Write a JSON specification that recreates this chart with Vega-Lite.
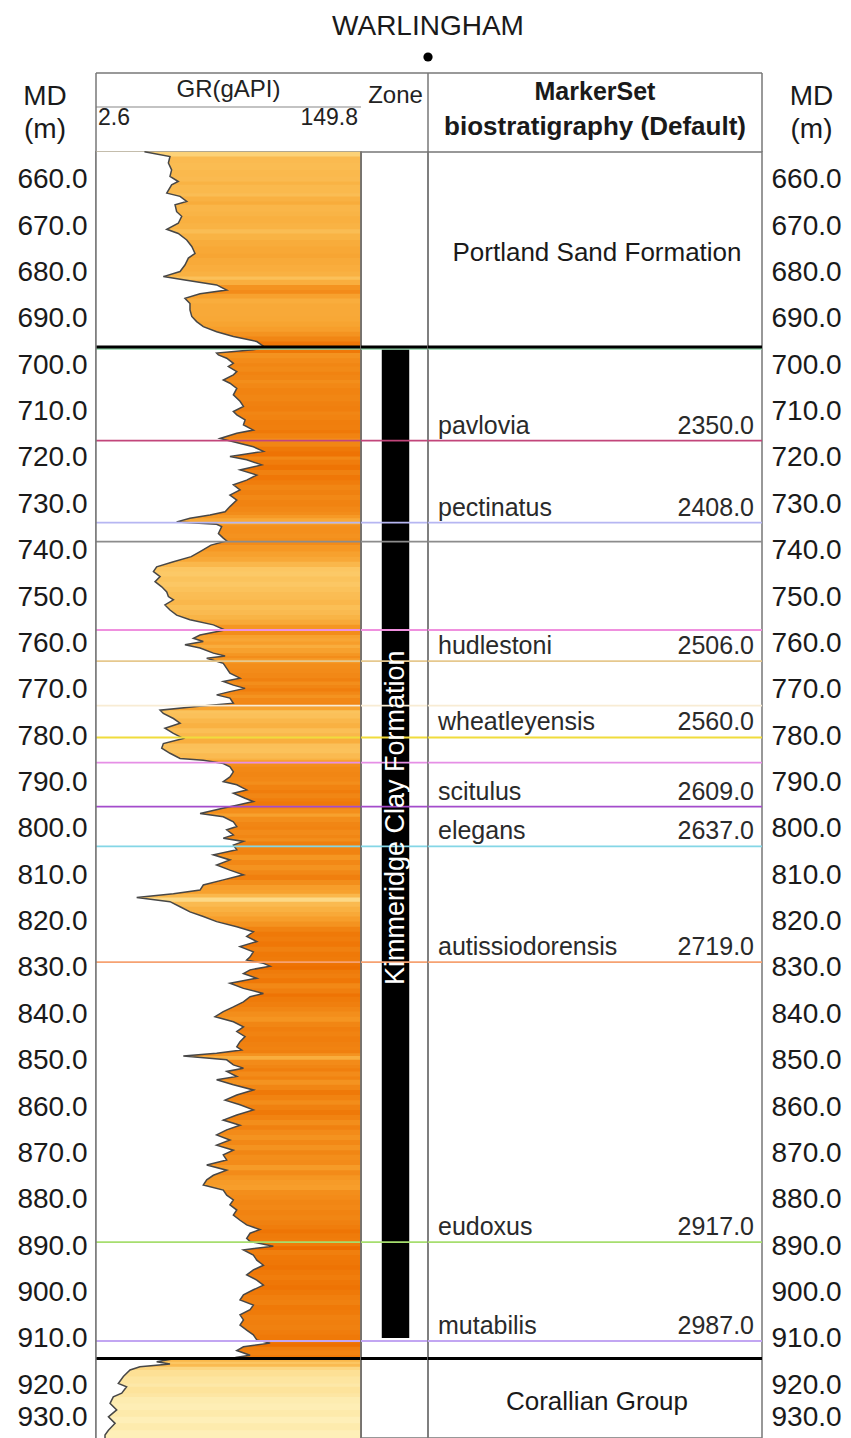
{
  "$schema": "https://vega.github.io/schema/vega-lite/v6.json",
  "padding": 0,
  "background": "white",
  "config": {
    "font": "Liberation Sans",
    "view": {"stroke": null},
    "axis": {"labelFont": "Liberation Sans", "labelFontSize": 28, "labelColor": "#1a1a1a", "ticks": false, "domain": false, "grid": false}
  },
  "datasets": {
    "one": [{"k": 1}],
    "gr": [
      {"d":654.0,"gr":29.5},{"d":655.0,"gr":43.7},{"d":656.4,"gr":42.8},{"d":657.9,"gr":44.6},{"d":659.3,"gr":43.7},
      {"d":660.4,"gr":48.3},{"d":661.1,"gr":44.6},{"d":662.9,"gr":41.9},{"d":663.6,"gr":49.3},{"d":664.7,"gr":53.0},
      {"d":665.4,"gr":46.5},{"d":666.9,"gr":47.4},{"d":667.9,"gr":50.2},{"d":669.4,"gr":48.3},{"d":670.7,"gr":41.9},
      {"d":671.6,"gr":48.3},{"d":673.0,"gr":53.0},{"d":674.4,"gr":55.8},{"d":675.9,"gr":57.6},{"d":676.9,"gr":53.9},
      {"d":678.4,"gr":52.0},{"d":679.8,"gr":49.3},{"d":680.9,"gr":40.0},{"d":681.6,"gr":51.1},{"d":682.7,"gr":69.6},
      {"d":683.8,"gr":75.2},{"d":684.6,"gr":60.4},{"d":685.6,"gr":52.0},{"d":686.7,"gr":54.8},{"d":688.1,"gr":54.8},
      {"d":689.5,"gr":55.8},{"d":690.6,"gr":58.5},{"d":691.7,"gr":62.2},{"d":692.8,"gr":69.6},{"d":693.8,"gr":78.9},
      {"d":694.9,"gr":91.9},{"d":695.9,"gr":95.6},{"d":696.3,"gr":94.0},{"d":696.7,"gr":90.0},{"d":697.4,"gr":69.6},
      {"d":697.8,"gr":70.6},{"d":698.5,"gr":75.2},{"d":699.6,"gr":78.9},{"d":700.3,"gr":76.1},{"d":701.4,"gr":80.8},
      {"d":702.1,"gr":78.9},{"d":703.2,"gr":73.3},{"d":703.9,"gr":77.0},{"d":705.0,"gr":80.8},{"d":706.4,"gr":78.9},
      {"d":707.8,"gr":82.6},{"d":708.9,"gr":84.5},{"d":710.0,"gr":78.9},{"d":710.7,"gr":80.8},{"d":711.8,"gr":85.4},
      {"d":712.9,"gr":84.5},{"d":714.0,"gr":90.0},{"d":714.7,"gr":80.8},{"d":715.8,"gr":71.5},{"d":716.5,"gr":78.9},
      {"d":717.6,"gr":90.0},{"d":718.6,"gr":95.6},{"d":719.7,"gr":77.0},{"d":720.4,"gr":86.3},{"d":721.5,"gr":94.6},
      {"d":722.6,"gr":82.6},{"d":723.7,"gr":91.9},{"d":724.8,"gr":86.3},{"d":725.8,"gr":78.9},{"d":726.9,"gr":82.6},
      {"d":728.0,"gr":77.0},{"d":729.1,"gr":80.8},{"d":730.5,"gr":77.0},{"d":731.6,"gr":74.3},{"d":732.3,"gr":65.9},
      {"d":733.0,"gr":54.8},{"d":733.8,"gr":47.4},{"d":734.3,"gr":69.6},{"d":734.8,"gr":72.4},{"d":736.3,"gr":70.6},
      {"d":737.3,"gr":73.3},{"d":737.9,"gr":75.2},{"d":738.8,"gr":66.5},{"d":740.2,"gr":60.4},{"d":741.3,"gr":55.5},
      {"d":742.4,"gr":45.6},{"d":743.5,"gr":36.3},{"d":744.5,"gr":34.5},{"d":745.6,"gr":38.2},{"d":746.7,"gr":35.4},
      {"d":747.8,"gr":39.1},{"d":748.9,"gr":41.9},{"d":749.9,"gr":42.8},{"d":750.6,"gr":45.6},{"d":751.7,"gr":40.9},
      {"d":752.8,"gr":43.7},{"d":753.9,"gr":47.4},{"d":754.9,"gr":54.8},{"d":756.0,"gr":67.8},{"d":757.1,"gr":74.3},
      {"d":758.2,"gr":60.4},{"d":758.9,"gr":56.7},{"d":759.6,"gr":62.2},{"d":760.3,"gr":52.0},{"d":761.0,"gr":60.4},
      {"d":762.1,"gr":67.8},{"d":762.7,"gr":74.3},{"d":763.2,"gr":64.1},{"d":764.3,"gr":73.3},{"d":765.4,"gr":75.2},
      {"d":766.4,"gr":77.0},{"d":767.5,"gr":82.6},{"d":768.2,"gr":73.3},{"d":769.0,"gr":78.9},{"d":769.7,"gr":85.4},
      {"d":770.4,"gr":77.0},{"d":771.1,"gr":69.6},{"d":771.8,"gr":77.0},{"d":772.9,"gr":78.9},{"d":773.6,"gr":58.5},
      {"d":774.4,"gr":38.2},{"d":775.1,"gr":40.0},{"d":776.2,"gr":45.6},{"d":777.2,"gr":49.3},{"d":778.3,"gr":40.9},
      {"d":779.4,"gr":45.6},{"d":780.5,"gr":51.1},{"d":781.6,"gr":40.0},{"d":782.6,"gr":39.1},{"d":783.7,"gr":43.7},
      {"d":784.8,"gr":49.3},{"d":785.2,"gr":62.2},{"d":785.9,"gr":73.3},{"d":786.6,"gr":77.0},{"d":787.7,"gr":78.9},
      {"d":788.8,"gr":77.0},{"d":789.8,"gr":73.3},{"d":790.5,"gr":80.8},{"d":791.6,"gr":86.3},{"d":792.3,"gr":78.9},
      {"d":793.4,"gr":85.4},{"d":794.1,"gr":90.0},{"d":794.9,"gr":80.8},{"d":795.6,"gr":72.4},{"d":796.7,"gr":60.4},
      {"d":797.4,"gr":73.3},{"d":798.5,"gr":78.9},{"d":799.5,"gr":80.8},{"d":800.2,"gr":75.2},{"d":801.3,"gr":78.9},
      {"d":802.0,"gr":73.3},{"d":802.7,"gr":84.5},{"d":803.5,"gr":78.9},{"d":804.5,"gr":80.8},{"d":805.6,"gr":67.8},
      {"d":806.7,"gr":77.0},{"d":807.8,"gr":69.6},{"d":808.9,"gr":77.0},{"d":809.9,"gr":84.5},{"d":811.0,"gr":73.3},
      {"d":812.1,"gr":62.2},{"d":813.2,"gr":60.4},{"d":814.0,"gr":45.6},{"d":814.8,"gr":25.2},{"d":815.7,"gr":43.7},
      {"d":816.8,"gr":49.3},{"d":817.9,"gr":54.8},{"d":818.9,"gr":62.2},{"d":820.0,"gr":69.6},{"d":821.1,"gr":80.8},
      {"d":822.2,"gr":90.0},{"d":823.2,"gr":86.3},{"d":824.3,"gr":91.9},{"d":825.4,"gr":82.6},{"d":826.5,"gr":90.0},
      {"d":827.6,"gr":88.2},{"d":828.3,"gr":86.3},{"d":829.0,"gr":95.6},{"d":829.6,"gr":99.3},{"d":830.4,"gr":88.2},
      {"d":831.2,"gr":84.5},{"d":832.2,"gr":91.9},{"d":833.3,"gr":77.0},{"d":834.4,"gr":84.5},{"d":835.5,"gr":95.6},
      {"d":836.2,"gr":88.2},{"d":837.3,"gr":84.5},{"d":838.4,"gr":78.9},{"d":839.4,"gr":73.3},{"d":840.5,"gr":68.7},
      {"d":841.6,"gr":78.9},{"d":842.7,"gr":84.5},{"d":843.7,"gr":80.8},{"d":844.8,"gr":85.4},{"d":845.9,"gr":82.6},
      {"d":847.0,"gr":80.8},{"d":847.7,"gr":83.5},{"d":848.4,"gr":69.6},{"d":849.0,"gr":51.1},{"d":849.8,"gr":75.2},
      {"d":850.9,"gr":78.9},{"d":851.6,"gr":84.5},{"d":852.3,"gr":75.2},{"d":853.4,"gr":80.8},{"d":854.1,"gr":69.6},
      {"d":855.2,"gr":78.9},{"d":856.3,"gr":90.0},{"d":857.4,"gr":80.8},{"d":858.5,"gr":74.3},{"d":859.5,"gr":82.6},
      {"d":860.6,"gr":90.0},{"d":861.7,"gr":80.8},{"d":862.8,"gr":73.3},{"d":863.9,"gr":82.6},{"d":864.9,"gr":75.2},
      {"d":866.0,"gr":69.6},{"d":867.1,"gr":77.0},{"d":868.2,"gr":69.6},{"d":869.3,"gr":78.9},{"d":870.3,"gr":73.3},
      {"d":871.4,"gr":75.2},{"d":872.5,"gr":64.1},{"d":873.6,"gr":75.2},{"d":874.7,"gr":67.8},{"d":875.7,"gr":64.1},
      {"d":876.8,"gr":62.2},{"d":877.9,"gr":73.3},{"d":879.0,"gr":75.2},{"d":880.0,"gr":78.9},{"d":881.1,"gr":77.0},
      {"d":882.2,"gr":80.8},{"d":883.3,"gr":78.9},{"d":884.4,"gr":82.6},{"d":885.4,"gr":86.3},{"d":886.4,"gr":93.7},
      {"d":887.2,"gr":88.2},{"d":888.3,"gr":86.3},{"d":889.0,"gr":88.2},{"d":890.0,"gr":101.1},{"d":890.8,"gr":84.5},
      {"d":891.9,"gr":90.0},{"d":893.0,"gr":91.9},{"d":894.1,"gr":95.6},{"d":895.1,"gr":90.0},{"d":896.2,"gr":86.3},
      {"d":897.3,"gr":91.9},{"d":898.4,"gr":95.6},{"d":899.4,"gr":90.0},{"d":900.5,"gr":84.5},{"d":901.6,"gr":82.6},
      {"d":902.7,"gr":90.0},{"d":903.7,"gr":88.2},{"d":904.8,"gr":82.6},{"d":905.9,"gr":84.5},{"d":907.0,"gr":82.6},
      {"d":908.1,"gr":86.3},{"d":909.1,"gr":90.0},{"d":910.2,"gr":91.9},{"d":910.9,"gr":99.3},{"d":911.7,"gr":84.5},
      {"d":912.5,"gr":80.8},{"d":913.5,"gr":88.2},{"d":914.0,"gr":80.0},{"d":914.3,"gr":45.0},{"d":914.9,"gr":36.3},
      {"d":915.4,"gr":43.7},{"d":916.0,"gr":27.0},{"d":916.7,"gr":21.5},{"d":918.1,"gr":17.8},{"d":919.6,"gr":15.0},
      {"d":920.3,"gr":19.6},{"d":921.7,"gr":16.9},{"d":922.5,"gr":12.2},{"d":923.9,"gr":10.4},{"d":925.3,"gr":14.1},
      {"d":926.8,"gr":9.5},{"d":928.2,"gr":13.2},{"d":929.7,"gr":9.5},{"d":930.7,"gr":7.6},{"d":931.4,"gr":7.6}
    ],
    "mk": [
      {"d":696.5,"id":"kcf_top","name":"","md":""},
      {"d":716.28,"id":"pavlovia","name":"pavlovia","md":"2350.0"},
      {"d":733.96,"id":"pectinatus","name":"pectinatus","md":"2408.0"},
      {"d":738.07,"id":"m738","name":"","md":""},
      {"d":757.11,"id":"m757","name":"","md":""},
      {"d":763.83,"id":"hudlestoni","name":"hudlestoni","md":"2506.0"},
      {"d":773.44,"id":"m773","name":"","md":""},
      {"d":780.29,"id":"wheatleyensis","name":"wheatleyensis","md":"2560.0"},
      {"d":785.73,"id":"m786","name":"","md":""},
      {"d":795.22,"id":"scitulus","name":"scitulus","md":"2609.0"},
      {"d":803.76,"id":"elegans","name":"elegans","md":"2637.0"},
      {"d":828.75,"id":"autissiodorensis","name":"autissiodorensis","md":"2719.0"},
      {"d":889.10,"id":"eudoxus","name":"eudoxus","md":"2917.0"},
      {"d":910.44,"id":"mutabilis","name":"mutabilis","md":"2987.0"}
    ],
    "fm": [
      {"name":"Portland Sand Formation","d":654.0,"d2":696.08},
      {"name":"Kimmeridge Clay Formation","d":696.08,"d2":914.22},
      {"name":"Corallian Group","d":914.22,"d2":931.36}
    ],
    "zone": [
      {"name":"Kimmeridge Clay Formation","d":696.58,"d2":909.8}
    ]
  },
  "columns": 5,
  "spacing": 0,
  "bounds": "flush",
  "align": "each",
  "concat": [
    {
      "width": 96,
      "height": 152,
      "data": {"name": "one"},
      "layer": [
        {
          "mark": {"type": "text", "text": "MD", "fontSize": 28, "baseline": "middle", "dx": -3, "color": "#1a1a1a"},
          "encoding": {"y": {"datum": 0.362, "type": "quantitative", "scale": {"domain": [0, 1]}, "axis": null}}
        },
        {
          "mark": {"type": "text", "text": "(m)", "fontSize": 28, "baseline": "middle", "dx": -3, "color": "#1a1a1a"},
          "encoding": {"y": {"datum": 0.145, "type": "quantitative", "scale": {"domain": [0, 1]}, "axis": null}}
        }
      ]
    },
    {
      "width": 265,
      "height": 152,
      "data": {"name": "one"},
      "layer": [
        {
          "mark": {"type": "rule", "color": "#777", "strokeWidth": 1.5},
          "encoding": {"y": {"datum": 0.52, "type": "quantitative", "scale": {"domain": [0, 1]}, "axis": null}}
        },
        {
          "mark": {"type": "rule", "color": "#888", "strokeWidth": 1.2},
          "encoding": {"y": {"datum": 0.296, "type": "quantitative", "scale": {"domain": [0, 1]}, "axis": null}}
        },
        {
          "mark": {"type": "rule", "color": "#777", "strokeWidth": 1.5},
          "encoding": {
            "x": {"datum": 2.6, "type": "quantitative", "scale": {"domain": [2.6, 149.8], "nice": false, "zero": false}, "axis": null},
            "y": {"datum": 0, "type": "quantitative", "scale": {"domain": [0, 1]}, "axis": null},
            "y2": {"datum": 0.52}
          }
        },
        {
          "mark": {"type": "text", "text": "GR(gAPI)", "fontSize": 24, "baseline": "middle", "color": "#222"},
          "encoding": {"y": {"datum": 0.408, "type": "quantitative", "scale": {"domain": [0, 1]}, "axis": null}}
        },
        {
          "mark": {"type": "text", "text": "2.6", "fontSize": 23, "baseline": "middle", "align": "left", "dx": 2, "color": "#222"},
          "encoding": {
            "x": {"datum": 2.6, "type": "quantitative", "scale": {"domain": [2.6, 149.8], "nice": false, "zero": false}, "axis": null},
            "y": {"datum": 0.224, "type": "quantitative", "scale": {"domain": [0, 1]}, "axis": null}
          }
        },
        {
          "mark": {"type": "text", "text": "149.8", "fontSize": 23, "baseline": "middle", "align": "right", "dx": -3, "color": "#222"},
          "encoding": {
            "x": {"datum": 149.8, "type": "quantitative", "scale": {"domain": [2.6, 149.8], "nice": false, "zero": false}, "axis": null},
            "y": {"datum": 0.224, "type": "quantitative", "scale": {"domain": [0, 1]}, "axis": null}
          }
        }
      ]
    },
    {
      "width": 67,
      "height": 152,
      "data": {"name": "one"},
      "layer": [
        {
          "mark": {"type": "rule", "color": "#777", "strokeWidth": 1.5},
          "encoding": {"y": {"datum": 0.52, "type": "quantitative", "scale": {"domain": [0, 1]}, "axis": null}}
        },
        {
          "mark": {"type": "text", "text": "Zone", "fontSize": 24, "baseline": "middle", "dx": 1, "color": "#222"},
          "encoding": {"y": {"datum": 0.368, "type": "quantitative", "scale": {"domain": [0, 1]}, "axis": null}}
        }
      ]
    },
    {
      "width": 334,
      "height": 152,
      "data": {"name": "one"},
      "layer": [
        {
          "mark": {"type": "rule", "color": "#777", "strokeWidth": 1.5},
          "encoding": {"y": {"datum": 0.52, "type": "quantitative", "scale": {"domain": [0, 1]}, "axis": null}}
        },
        {
          "mark": {"type": "rule", "color": "#777", "strokeWidth": 1.5},
          "encoding": {
            "x": {"datum": 0, "type": "quantitative", "scale": {"domain": [0, 1]}, "axis": null},
            "y": {"datum": 0, "type": "quantitative", "scale": {"domain": [0, 1]}, "axis": null},
            "y2": {"datum": 0.52}
          }
        },
        {
          "mark": {"type": "rule", "color": "#777", "strokeWidth": 1.5},
          "encoding": {
            "x": {"datum": 1, "type": "quantitative", "scale": {"domain": [0, 1]}, "axis": null},
            "y": {"datum": 0, "type": "quantitative", "scale": {"domain": [0, 1]}, "axis": null},
            "y2": {"datum": 0.52}
          }
        },
        {
          "mark": {"type": "text", "text": "WARLINGHAM", "fontSize": 28, "baseline": "middle", "color": "#1a1a1a"},
          "encoding": {
            "x": {"datum": 0, "type": "quantitative", "scale": {"domain": [0, 1]}, "axis": null},
            "y": {"datum": 0.822, "type": "quantitative", "scale": {"domain": [0, 1]}, "axis": null}
          }
        },
        {
          "mark": {"type": "point", "filled": true, "size": 85, "color": "black", "opacity": 1},
          "encoding": {
            "x": {"datum": 0, "type": "quantitative", "scale": {"domain": [0, 1]}, "axis": null},
            "y": {"datum": 0.625, "type": "quantitative", "scale": {"domain": [0, 1]}, "axis": null}
          }
        },
        {
          "mark": {"type": "text", "text": "MarkerSet", "fontSize": 25, "fontWeight": "bold", "baseline": "middle", "color": "#1a1a1a"},
          "encoding": {"y": {"datum": 0.395, "type": "quantitative", "scale": {"domain": [0, 1]}, "axis": null}}
        },
        {
          "mark": {"type": "text", "text": "biostratigraphy (Default)", "fontSize": 26, "fontWeight": "bold", "baseline": "middle", "color": "#1a1a1a"},
          "encoding": {"y": {"datum": 0.164, "type": "quantitative", "scale": {"domain": [0, 1]}, "axis": null}}
        }
      ]
    },
    {
      "width": 89,
      "height": 152,
      "data": {"name": "one"},
      "layer": [
        {
          "mark": {"type": "text", "text": "MD", "fontSize": 28, "baseline": "middle", "dx": 5, "color": "#1a1a1a"},
          "encoding": {"y": {"datum": 0.362, "type": "quantitative", "scale": {"domain": [0, 1]}, "axis": null}}
        },
        {
          "mark": {"type": "text", "text": "(m)", "fontSize": 28, "baseline": "middle", "dx": 5, "color": "#1a1a1a"},
          "encoding": {"y": {"datum": 0.145, "type": "quantitative", "scale": {"domain": [0, 1]}, "axis": null}}
        }
      ]
    },
    {
      "width": 96,
      "height": 1286,
      "data": {"name": "fm"},
      "mark": {"type": "rule", "opacity": 0},
      "encoding": {
        "y": {
          "field": "d", "type": "quantitative",
          "scale": {"domain": [654.03, 931.36], "reverse": true, "nice": false, "zero": false},
          "axis": {"orient": "right", "title": null, "labelAlign": "right", "labelPadding": -9, "values": [660,670,680,690,700,710,720,730,740,750,760,770,780,790,800,810,820,830,840,850,860,870,880,890,900,910,920,930], "format": ".1f", "labelFlush": 12}
        }
      }
    },
    {
      "width": 265,
      "height": 1286,
      "view": {"stroke": "#777", "strokeWidth": 1.5},
      "encoding": {
        "y": {"field": "d", "type": "quantitative", "scale": {"domain": [654.03, 931.36], "reverse": true, "nice": false, "zero": false}, "axis": null}
      },
      "layer": [
        {
          "data": {"name": "gr"},
          "transform": [
            {"window": [{"op": "lead", "field": "d", "param": 2, "as": "d2"}], "sort": [{"field": "d"}]},
            {"filter": "isValid(datum.d2)"}
          ],
          "mark": {"type": "rect"},
          "encoding": {
            "x": {"datum": 2.6, "type": "quantitative", "scale": {"domain": [2.6, 149.8], "nice": false, "zero": false}, "axis": null},
            "x2": {"datum": 149.8},
            "y2": {"field": "d2"},
            "fill": {
              "field": "gr", "type": "quantitative",
              "scale": {"domain": [8, 20, 35, 50, 65, 80, 95], "range": ["#FEF1BC", "#FDE29A", "#FCC865", "#F9B040", "#F69A26", "#F18412", "#EE7404"]},
              "legend": null
            }
          }
        },
        {
          "data": {"name": "gr"},
          "mark": {"type": "area", "orient": "horizontal", "fill": "white"},
          "encoding": {
            "x": {"field": "gr", "type": "quantitative"},
            "x2": {"datum": 2.6}
          }
        },
        {
          "data": {"name": "gr"},
          "mark": {"type": "line", "color": "#474747", "strokeWidth": 1.5},
          "encoding": {
            "x": {"field": "gr", "type": "quantitative"},
            "order": {"field": "d", "type": "quantitative"}
          }
        },
        {
          "data": {"name": "mk"},
          "mark": {"type": "rule", "strokeWidth": 1.8},
          "encoding": {
            "stroke": {
              "field": "id", "type": "nominal",
              "scale": {
                "domain": ["kcf_top","pavlovia","pectinatus","m738","m757","hudlestoni","m773","wheatleyensis","m786","scitulus","elegans","autissiodorensis","eudoxus","mutabilis"],
                "range": ["#8ed6a8","#c2457a","#b6b6f2","#8c8c8c","#ef90de","#e6c88e","#f8ecd4","#f0dc3c","#e68fe6","#a44ccc","#84d6e6","#f6a272","#a6de6e","#c2a6f2"]
              },
              "legend": null
            }
          }
        },
        {
          "data": {"name": "fm"},
          "transform": [{"filter": "datum.d > 655"}],
          "mark": {"type": "rule", "color": "black", "strokeWidth": 3},
          "encoding": {}
        },
        {
          "data": {"name": "fm"},
          "mark": {"type": "rule", "color": "#6b5a4a", "strokeWidth": 1.5},
          "encoding": {
            "x": {"datum": 149.8, "type": "quantitative"},
            "y": {"field": "d", "type": "quantitative"},
            "y2": {"field": "d2"}
          }
        },
        {
          "data": {"name": "fm"},
          "mark": {"type": "rule", "color": "#777", "strokeWidth": 1.5},
          "encoding": {
            "x": {"datum": 2.6, "type": "quantitative"},
            "y": {"field": "d", "type": "quantitative"},
            "y2": {"field": "d2"}
          }
        }
      ]
    },
    {
      "width": 67,
      "height": 1286,
      "view": {"stroke": "#777", "strokeWidth": 1.5},
      "encoding": {
        "y": {"field": "d", "type": "quantitative", "scale": {"domain": [654.03, 931.36], "reverse": true, "nice": false, "zero": false}, "axis": null}
      },
      "layer": [
        {
          "data": {"name": "zone"},
          "mark": {"type": "rect", "color": "black"},
          "encoding": {
            "x": {"datum": 0.31, "type": "quantitative", "scale": {"domain": [0, 1]}, "axis": null},
            "x2": {"datum": 0.72},
            "y2": {"field": "d2"}
          }
        },
        {
          "data": {"name": "mk"},
          "mark": {"type": "rule", "strokeWidth": 1.8},
          "encoding": {
            "stroke": {
              "field": "id", "type": "nominal",
              "scale": {
                "domain": ["kcf_top","pavlovia","pectinatus","m738","m757","hudlestoni","m773","wheatleyensis","m786","scitulus","elegans","autissiodorensis","eudoxus","mutabilis"],
                "range": ["#8ed6a8","#c2457a","#b6b6f2","#8c8c8c","#ef90de","#e6c88e","#f8ecd4","#f0dc3c","#e68fe6","#a44ccc","#84d6e6","#f6a272","#a6de6e","#c2a6f2"]
              },
              "legend": null
            }
          }
        },
        {
          "data": {"name": "fm"},
          "transform": [{"filter": "datum.d > 655"}],
          "mark": {"type": "rule", "color": "black", "strokeWidth": 3},
          "encoding": {}
        },
        {
          "data": {"name": "zone"},
          "transform": [{"calculate": "(datum.d + datum.d2) / 2", "as": "mid"}],
          "mark": {"type": "text", "angle": 270, "color": "white", "fontSize": 27, "baseline": "middle", "dx": 26},
          "encoding": {
            "x": {"datum": 0.515, "type": "quantitative", "scale": {"domain": [0, 1]}, "axis": null},
            "y": {"field": "mid", "type": "quantitative", "axis": null},
            "text": {"field": "name"}
          }
        }
      ]
    },
    {
      "width": 334,
      "height": 1286,
      "view": {"stroke": "#777", "strokeWidth": 1.5},
      "encoding": {
        "y": {"field": "d", "type": "quantitative", "scale": {"domain": [654.03, 931.36], "reverse": true, "nice": false, "zero": false}, "axis": null}
      },
      "layer": [
        {
          "data": {"name": "mk"},
          "mark": {"type": "rule", "strokeWidth": 1.8},
          "encoding": {
            "stroke": {
              "field": "id", "type": "nominal",
              "scale": {
                "domain": ["kcf_top","pavlovia","pectinatus","m738","m757","hudlestoni","m773","wheatleyensis","m786","scitulus","elegans","autissiodorensis","eudoxus","mutabilis"],
                "range": ["#8ed6a8","#c2457a","#b6b6f2","#8c8c8c","#ef90de","#e6c88e","#f8ecd4","#f0dc3c","#e68fe6","#a44ccc","#84d6e6","#f6a272","#a6de6e","#c2a6f2"]
              },
              "legend": null
            }
          }
        },
        {
          "data": {"name": "fm"},
          "transform": [{"filter": "datum.d > 655"}],
          "mark": {"type": "rule", "color": "black", "strokeWidth": 3},
          "encoding": {}
        },
        {
          "data": {"name": "mk"},
          "transform": [{"filter": "datum.name != ''"}],
          "mark": {"type": "text", "align": "left", "baseline": "bottom", "dx": 10, "dy": -2, "fontSize": 25, "color": "#2a2a2a"},
          "encoding": {
            "x": {"datum": 0, "type": "quantitative", "scale": {"domain": [0, 1]}, "axis": null},
            "text": {"field": "name"}
          }
        },
        {
          "data": {"name": "mk"},
          "transform": [{"filter": "datum.name != ''"}],
          "mark": {"type": "text", "align": "right", "baseline": "bottom", "dx": -8, "dy": -2, "fontSize": 25, "color": "#2a2a2a"},
          "encoding": {
            "x": {"datum": 1, "type": "quantitative", "scale": {"domain": [0, 1]}, "axis": null},
            "text": {"field": "md"}
          }
        },
        {
          "data": {"name": "fm"},
          "transform": [{"filter": "datum.name != 'Kimmeridge Clay Formation'"}, {"calculate": "(datum.d + datum.d2) / 2", "as": "mid"}],
          "mark": {"type": "text", "fontSize": 26, "baseline": "middle", "dy": 4, "dx": 2, "color": "#1a1a1a"},
          "encoding": {
            "y": {"field": "mid", "type": "quantitative", "axis": null},
            "text": {"field": "name"}
          }
        }
      ]
    },
    {
      "width": 89,
      "height": 1286,
      "data": {"name": "fm"},
      "mark": {"type": "rule", "opacity": 0},
      "encoding": {
        "y": {
          "field": "d", "type": "quantitative",
          "scale": {"domain": [654.03, 931.36], "reverse": true, "nice": false, "zero": false},
          "axis": {"orient": "left", "title": null, "labelAlign": "left", "labelPadding": -9, "values": [660,670,680,690,700,710,720,730,740,750,760,770,780,790,800,810,820,830,840,850,860,870,880,890,900,910,920,930], "format": ".1f", "labelFlush": 12}
        }
      }
    }
  ]
}
